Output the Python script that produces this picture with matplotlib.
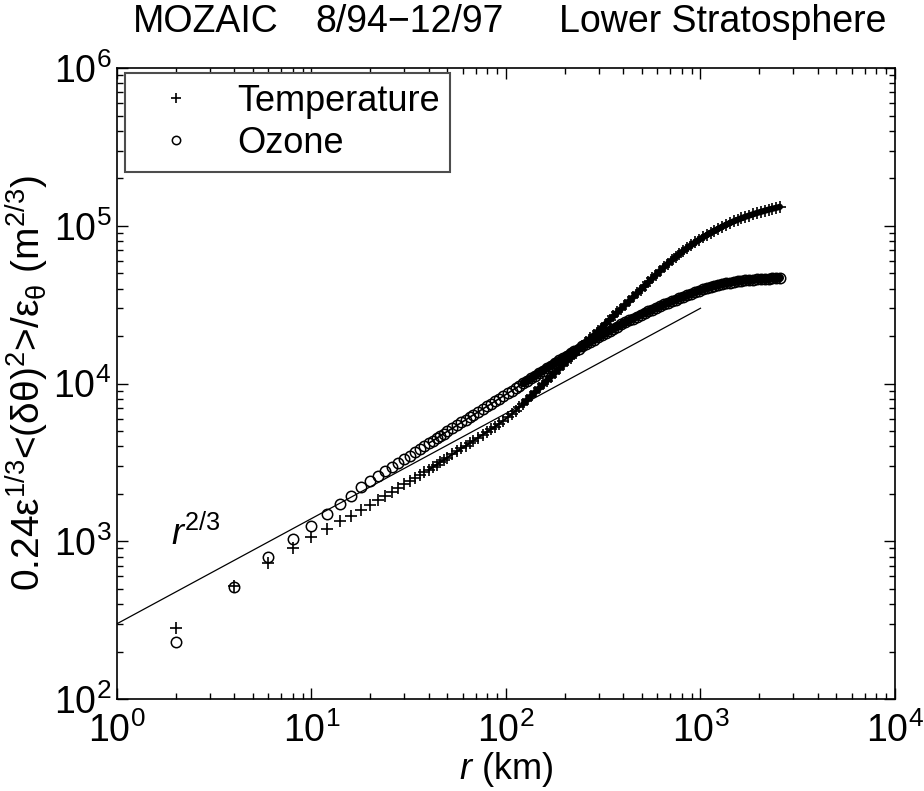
import matplotlib
matplotlib.use("Agg")
import matplotlib.pyplot as plt
from matplotlib import font_manager

# pick a narrow Helvetica-like face if we have one
names = {f.name for f in font_manager.fontManager.ttflist}
FONT = "Liberation Sans Narrow" if "Liberation Sans Narrow" in names else "Liberation Sans"

plt.rcParams["font.family"] = [FONT, "DejaVu Sans"]
plt.rcParams["mathtext.fontset"] = "custom"
plt.rcParams["mathtext.rm"] = FONT
plt.rcParams["mathtext.it"] = FONT + ":italic"
plt.rcParams["mathtext.bf"] = FONT + ":bold"

# separation r (km)
r_km = [2, 4, 6, 8, 10, 12, 14, 16, 18, 20,
        22, 24, 26, 28, 30, 32, 34, 36, 38, 40,
        42, 44, 46, 48, 50, 53, 56, 59, 62, 65, 68, 72, 76, 80, 84, 88, 92, 97,
        102, 107, 112, 117, 123, 129, 135, 141, 148, 155, 162, 170, 178, 187, 196,
        205, 215, 225, 236, 247, 259, 271, 284, 297, 311, 326, 341, 357, 374, 392,
        410, 430, 450, 471, 493, 516, 540, 566, 592, 620, 650, 680, 712, 745, 780,
        817, 855, 895, 937, 981, 1027, 1075, 1126, 1178, 1234, 1292, 1352, 1416,
        1482, 1552, 1625, 1700, 1780, 1864, 1951, 2043, 2139, 2239, 2344, 2454, 2560]

temperature = [283, 520, 725, 900, 1060, 1190, 1340, 1450, 1580, 1700,
               1824, 1945, 2064, 2181, 2295, 2407, 2518, 2627, 2733, 2839,
               2951, 3062, 3177, 3281, 3396, 3556, 3715, 3873, 4027, 4188, 4345, 4539, 4742, 4943, 5140, 5333, 5546, 5821,
               6109, 6397, 6714, 7047, 7464, 7907, 8356, 8810, 9333, 9863, 10420, 11020, 11640, 12360, 13060,
               13800, 14590, 15420, 16370, 17300, 18280, 19320, 20280, 21430, 22650, 23930, 25290, 26730, 28250, 29850,
               31550, 33340, 35240, 37240, 39360, 41590, 43850, 46450, 48980, 51760, 54700, 57540, 60390, 63390, 66370,
               69340, 72280, 75340, 78340, 81280, 84330, 87100, 90160, 92900, 95720, 98620, 101400, 104000,
               106700, 109100, 111700, 114000, 116100, 118300, 120500, 122500, 124500, 126500, 128200, 130000, 131800]

ozone = [231, 510, 790, 1030, 1250, 1480, 1720, 1940, 2200, 2400,
         2590, 2777, 2962, 3142, 3320, 3496, 3670, 3842, 4011, 4179,
         4335, 4495, 4664, 4819, 4977, 5200, 5433, 5662, 5875, 6109, 6324, 6607, 6902, 7178, 7447, 7727, 7998, 8337,
         8670, 8995, 9333, 9661, 10070, 10450, 10810, 11190, 11640, 12080, 12500, 12970, 13460, 14000, 14490,
         15030, 15560, 16110, 16670, 17220, 17780, 18370, 18970, 19590, 20230, 20890, 21580, 22230, 22960, 23710,
         24430, 25120, 25820, 26550, 27290, 27990, 28640, 29440, 30130, 30900, 31770, 32510, 33190, 33970, 34750,
         35480, 36310, 37070, 37930, 38730, 39450, 40180, 40830, 41500, 42070, 42660, 43150, 43650,
         44060, 44460, 44770, 45080, 45290, 45500, 45710, 45920, 46030, 46130, 46350, 46560, 46770]

# r^(2/3) reference line end points
ref_r = [1, 1000]
ref_val = [300, 30000]

fig = plt.figure(figsize=(9.24, 7.91), dpi=100)
ax = fig.add_axes([0.1266, 0.1163, 0.842, 0.7977])

ax.plot(ref_r, ref_val, color="black", lw=0.9)

# the real samples (every 2 km) overlap: a chain in the middle, a solid band at large r
mid = [i for i, r in enumerate(r_km) if 40 <= r <= 125]
dense = [i for i, r in enumerate(r_km) if r >= 120]
ax.plot([r_km[i] for i in mid], [temperature[i] for i in mid], color="black", lw=1.6)
ax.plot([r_km[i] for i in mid], [ozone[i] for i in mid], color="black", lw=1.2)
ax.plot([r_km[i] for i in dense], [temperature[i] for i in dense], color="black", lw=4.5,
        solid_capstyle="round")
ax.plot([r_km[i] for i in dense], [ozone[i] for i in dense], color="black", lw=6,
        solid_capstyle="round")

ax.plot(r_km, temperature, ls="none", marker="+", ms=8.5, mew=1.2, color="black", label="Temperature")
ax.plot(r_km, ozone, ls="none", marker="o", ms=7.5, mew=1.1, mfc="none", color="black", label="Ozone")

ax.set_xscale("log")
ax.set_yscale("log")
ax.set_xlim(1, 1e4)
ax.set_ylim(1e2, 1e6)

ax.tick_params(which="both", direction="in", top=True, right=True, labelsize=27, width=1)
ax.tick_params(which="major", length=8)
ax.tick_params(which="minor", length=4)
ax.tick_params(axis="x", pad=10)
ax.tick_params(axis="y", pad=4)
for s in ax.spines.values():
    s.set_linewidth(1.2)

ax.text(1.9, 950, r"$r^{\mathit{2/3}}$", fontsize=26, ha="left", va="baseline")

ax.set_xlabel(r"$r$ (km)", fontsize=26, labelpad=0)
ax.set_ylabel(r"0.24ε$^{1/3}$<(δθ)$^2$>/ε$_{\mathrm{θ}}$ (m$^{2/3}$)", fontsize=28, labelpad=2)

leg = ax.legend(loc="upper left", bbox_to_anchor=(0.0103, 0.992), borderaxespad=0,
                fontsize=26, fancybox=False, handlelength=2.2, handletextpad=0.6,
                borderpad=0.3, labelspacing=0.2, markerscale=0.8)
leg.get_frame().set_edgecolor("0.3")
leg.get_frame().set_linewidth(1.5)
leg.get_frame().set_alpha(1)

fig.text(133 / 924, 1 - 22 / 791, "MOZAIC", fontsize=27, ha="left", va="center")
fig.text(315 / 924, 1 - 22 / 791, "8/94\u221212/97", fontsize=27, ha="left", va="center")
fig.text(886 / 924, 1 - 22 / 791, "Lower Stratosphere", fontsize=27, ha="right", va="center")

fig.savefig("out.png", dpi=100)
